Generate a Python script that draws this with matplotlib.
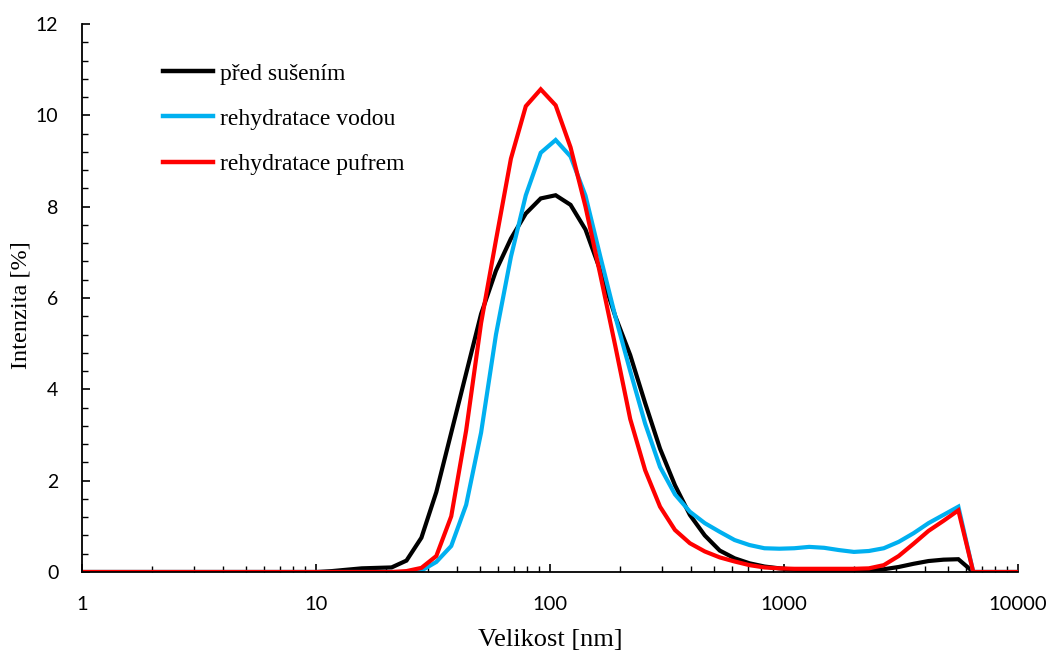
import matplotlib
matplotlib.use("Agg")
import matplotlib.pyplot as plt
from matplotlib.ticker import MultipleLocator, LogLocator, NullFormatter

# Size bins (nm)
size_nm = [0.4, 0.4632, 0.5365, 0.6213, 0.7195, 0.8332, 0.9649, 1.117, 1.294, 1.499,
           1.736, 2.010, 2.328, 2.696, 3.122, 3.615, 4.187, 4.849, 5.615, 6.503,
           7.531, 8.721, 10.10, 11.70, 13.54, 15.69, 18.17, 21.04, 24.36, 28.21,
           32.67, 37.84, 43.82, 50.75, 58.77, 68.06, 78.82, 91.28, 105.7, 122.4,
           141.8, 164.2, 190.1, 220.2, 255.0, 295.3, 342.0, 396.1, 458.7, 531.2,
           615.1, 712.4, 825.0, 955.4, 1106, 1281, 1484, 1718, 1990, 2305,
           2669, 3091, 3580, 4145, 4801, 5560, 6439, 7456, 8635, 10000]

pred_suseni = [0]*22 + [0.0, 0.02, 0.05, 0.08, 0.09, 0.10, 0.25, 0.75,
               1.75, 3.05, 4.35, 5.65, 6.60, 7.30, 7.85, 8.18, 8.25, 8.04,
               7.50, 6.60, 5.60, 4.75, 3.70, 2.70, 1.90, 1.25, 0.80, 0.47,
               0.30, 0.19, 0.12, 0.08, 0.05, 0.03, 0.02, 0.02, 0.03, 0.04,
               0.06, 0.11, 0.18, 0.24, 0.27, 0.28, 0.0, 0.0, 0.0, 0.0]

rehydratace_vodou = [0]*22 + [0.0, 0.0, 0.0, 0.0, 0.0, 0.0, 0.0, 0.03,
                     0.22, 0.57, 1.47, 3.05, 5.20, 6.90, 8.25, 9.18, 9.46, 9.10,
                     8.24, 6.90, 5.60, 4.40, 3.25, 2.30, 1.70, 1.32, 1.07, 0.88,
                     0.70, 0.59, 0.52, 0.51, 0.52, 0.55, 0.53, 0.48, 0.44, 0.46,
                     0.52, 0.66, 0.85, 1.07, 1.25, 1.43, 0.0, 0.0, 0.0, 0.0]

rehydratace_pufrem = [0]*22 + [0.0, 0.0, 0.0, 0.0, 0.0, 0.0, 0.02, 0.09,
                      0.35, 1.22, 3.10, 5.45, 7.27, 9.05, 10.20, 10.57, 10.22, 9.30,
                      8.00, 6.50, 4.95, 3.35, 2.23, 1.43, 0.92, 0.63, 0.45, 0.32,
                      0.23, 0.15, 0.10, 0.08, 0.07, 0.07, 0.07, 0.07, 0.07, 0.08,
                      0.15, 0.35, 0.62, 0.90, 1.12, 1.35, 0.0, 0.0, 0.0, 0.0]

labels = ["před sušením", "rehydratace vodou", "rehydratace pufrem"]
colors = ["#000000", "#00B0F0", "#FF0000"]
x_ticks = [1, 10, 100, 1000, 10000]
x_ticklabels = ["1", "10", "100", "1000", "10000"]
y_ticks = [0, 2, 4, 6, 8, 10, 12]

fig = plt.figure(figsize=(10.48, 6.52), dpi=100)
ax = fig.add_axes([82/1048, 80/652, 936/1048, 548/652])

for series, lab, col in zip([pred_suseni, rehydratace_vodou, rehydratace_pufrem], labels, colors):
    ax.plot(size_nm, series, color=col, lw=3.0, label=lab, solid_joinstyle="miter")

ax.set_xscale("log")
ax.set_xlim(1, 10000)
ax.set_ylim(0, 12)
ax.set_xticks(x_ticks)
ax.set_xticklabels(x_ticklabels)
ax.xaxis.set_minor_locator(LogLocator(base=10, subs=range(2, 10)))
ax.xaxis.set_minor_formatter(NullFormatter())
ax.set_yticks(y_ticks)
ax.yaxis.set_minor_locator(MultipleLocator(0.4))

for s in ["top", "right"]:
    ax.spines[s].set_visible(False)
for s in ["left", "bottom"]:
    ax.spines[s].set_linewidth(1.3)

ax.tick_params(axis="both", which="major", direction="in", length=6, width=1.2)
ax.tick_params(axis="both", which="minor", direction="in", length=4, width=1.0)
ax.tick_params(axis="x", which="major", pad=17, labelsize=14.5)
ax.tick_params(axis="y", which="major", pad=17, labelsize=14)
for t in ax.get_xticklabels() + ax.get_yticklabels():
    t.set_fontfamily("Lato")

ax.set_xlabel("Velikost [nm]", fontfamily="Liberation Serif", fontsize=19, labelpad=12)
ax.set_ylabel("Intenzita [%]", fontfamily="Liberation Serif", fontsize=17.5)
ax.yaxis.set_label_coords((32 - 82) / 936, (572 - 305) / 548)

leg = ax.legend(loc="upper left", bbox_to_anchor=((163-82)/936, (572-63)/548),
                frameon=False, prop={"family": "Liberation Serif", "size": 17},
                handlelength=2.12, handletextpad=0.3, labelspacing=1.0,
                borderpad=0, borderaxespad=0)
for h in leg.get_lines():
    h.set_linewidth(3.2)

fig.savefig("out.png", dpi=100)
